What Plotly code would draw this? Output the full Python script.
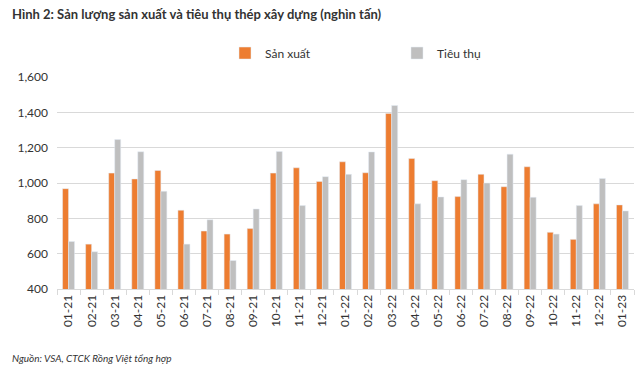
import plotly.graph_objects as go

months = ["01-21","02-21","03-21","04-21","05-21","06-21","07-21","08-21","09-21","10-21","11-21","12-21",
          "01-22","02-22","03-22","04-22","05-22","06-22","07-22","08-22","09-22","10-22","11-22","12-22","01-23"]
san_xuat = [968, 654, 1056, 1023, 1071, 846, 728, 711, 742, 1056, 1086, 1009,
            1120, 1058, 1394, 1139, 1013, 923, 1049, 979, 1092, 721, 681, 882, 876]
tieu_thu = [669, 611, 1246, 1177, 953, 654, 792, 561, 853, 1178, 872, 1036,
            1049, 1176, 1439, 882, 921, 1019, 1000, 1163, 919, 711, 872, 1026, 842]
y_ticks = [400, 600, 800, 1000, 1200, 1400, 1600]

FONT = "Lato"

fig = go.Figure()
fig.add_trace(go.Bar(x=months, y=san_xuat, name="Sản xuất", marker_color="#ED7D31"))
fig.add_trace(go.Bar(x=months, y=tieu_thu, name="Tiêu thụ", marker_color="#BFBFBF"))

fig.update_layout(
    width=640, height=375,
    margin=dict(l=57, r=6, t=77, b=86, autoexpand=False),
    paper_bgcolor="white", plot_bgcolor="white",
    barmode="group", bargap=0.48, bargroupgap=0,
    font=dict(family=FONT, size=11, color="#333333"),
    legend=dict(orientation="h", x=(225-57)/577, xanchor="left", y=1.113, yanchor="middle",
                font=dict(size=12, color="#333333"), entrywidth=127, entrywidthmode="pixels",
                itemwidth=30),
    showlegend=True,
    annotations=[
        dict(text="<b>Hình 2: Sản lượng sản xuất và tiêu thụ thép xây dựng (nghìn tấn)</b>",
             xref="paper", yref="paper", x=-47/577, y=1 + (77-14)/212, xanchor="left", yanchor="middle",
             showarrow=False, font=dict(size=13, color="#333333", family=FONT)),
        dict(text="<i>Nguồn: VSA, CTCK Rồng Việt tổng hợp</i>",
             xref="paper", yref="paper", x=-47/577, y=-(358-289)/212, xanchor="left", yanchor="middle",
             showarrow=False, font=dict(size=10, color="#333333", family=FONT)),
    ],
)
fig.update_yaxes(range=[400, 1600], tickvals=y_ticks, tickformat=",", showgrid=True,
                 gridcolor="#D9D9D9", gridwidth=1, zeroline=False, showline=False,
                 tickfont=dict(size=12, color="#333333"), ticks="", ticklabelstandoff=8,
                 automargin=False)
fig.update_xaxes(type="category", tickangle=-90, showline=True, linecolor="#D9D9D9",
                 ticks="outside", tickson="boundaries", ticklen=5, tickcolor="#D9D9D9",
                 tickfont=dict(size=12, color="#333333"), showgrid=False, automargin=False)

fig.write_html("out.html", config={"displayModeBar": False},
               post_script="document.body.style.margin='0';document.body.style.overflow='hidden';")
